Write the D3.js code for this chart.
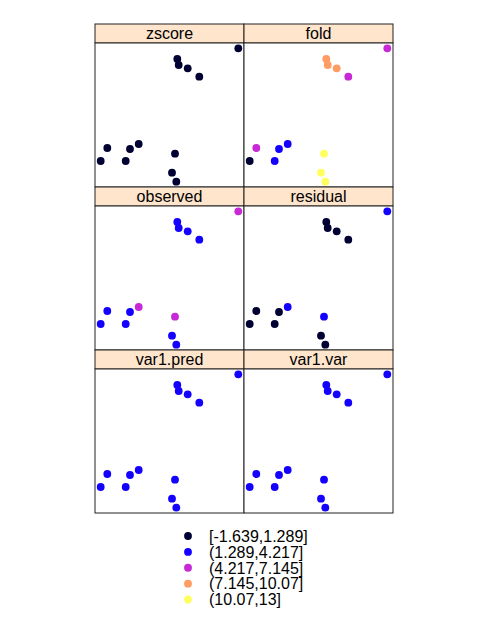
<!DOCTYPE html>
<html>
<head>
<meta charset="utf-8">
<script src="https://cdn.jsdelivr.net/npm/d3@7"></script>
<style>
  body { margin: 0; background: #fff; }
  text { font-family: "Liberation Sans", Arial, sans-serif; }
</style>
</head>
<body>
<div id="chart"></div>
<script>

// panel names, row-major like lattice draws them
var panelNames = ["zscore", "fold", "observed", "residual", "var1.pred", "var1.var"];

// class labels (shared cut intervals)
var legendLabels = ["[-1.639,1.289]", "(1.289,4.217]", "(4.217,7.145]", "(7.145,10.07]", "(10.07,13]"];

// point locations (easting / northing, arbitrary units)
var easting  = [143.3, 82.3, 83.7, 92.7, 104.3, 12.3, 35, 43.7, 5.7, 30.7, 80, 77, 81.3];
var northing = [138.7, 128, 122, 118.7, 110.3, 39, 38, 43, 26, 26, 33.3, 14.3, 5.3];

// class index of each point in each panel
var zscoreClass   = [0, 0, 0, 0, 0, 0, 0, 0, 0, 0, 0, 0, 0];
var foldClass     = [2, 3, 3, 3, 2, 2, 1, 1, 0, 1, 4, 4, 4];
var observedClass = [2, 1, 1, 1, 1, 1, 1, 2, 1, 1, 2, 1, 1];
var residualClass = [1, 0, 0, 0, 0, 0, 0, 1, 0, 0, 1, 0, 0];
var predClass     = [1, 1, 1, 1, 1, 1, 1, 1, 1, 1, 1, 1, 1];
var varClass      = [1, 1, 1, 1, 1, 1, 1, 1, 1, 1, 1, 1, 1];

var panelClasses = [zscoreClass, foldClass, observedClass, residualClass, predClass, varClass];

// bpy.colors(5)
var colorScale = d3.scaleOrdinal()
    .domain(d3.range(5))
    .range(["#000033", "#1400FF", "#C729D6", "#FF9C63", "#FFFF60"]);

var chartW = 480, chartH = 624;
var marginLeft = 95, marginTop = 24;
var panelW = 149, panelH = 144, stripH = 19;

var svg = d3.select("#chart").append("svg")
    .attr("width", chartW)
    .attr("height", chartH);

var x = d3.scaleLinear().domain([0, 149]).range([0, panelW]);
var y = d3.scaleLinear().domain([0, 144]).range([panelH, 0]);

panelNames.forEach(function(name, i) {
    var col = i % 2, row = Math.floor(i / 2);
    var g = svg.append("g")
        .attr("transform", "translate(" + (marginLeft + col * panelW) + "," + (marginTop + row * (panelH + stripH)) + ")");

    // strip
    g.append("rect")
        .attr("width", panelW)
        .attr("height", stripH)
        .attr("fill", "#FFE5CC")
        .attr("stroke", "#222")
        .attr("stroke-width", 1);

    g.append("text")
        .attr("x", panelW / 2)
        .attr("y", stripH / 2 + 5.5)
        .attr("text-anchor", "middle")
        .style("font-size", "16px")
        .style("fill", "#000")
        .text(name);

    var p = g.append("g").attr("transform", "translate(0," + stripH + ")");

    p.append("rect")
        .attr("width", panelW)
        .attr("height", panelH)
        .attr("fill", "#fff")
        .attr("stroke", "#222")
        .attr("stroke-width", 1);

    var cls = panelClasses[i];
    p.selectAll("circle")
        .data(easting)
        .enter().append("circle")
        .attr("cx", function(d) { return x(d); })
        .attr("cy", function(d, j) { return y(northing[j]); })
        .attr("r", 3.9)
        .attr("fill", function(d, j) { return colorScale(cls[j]); });
});

// legend
var legend = svg.append("g").attr("transform", "translate(188,536)");
var ly = d3.scalePoint().domain(d3.range(5)).range([0, 63.5]);

legend.selectAll("circle")
    .data(legendLabels)
    .enter().append("circle")
    .attr("cx", 0)
    .attr("cy", function(d, i) { return ly(i); })
    .attr("r", 3.9)
    .attr("fill", function(d, i) { return colorScale(i); });

legend.selectAll("text")
    .data(legendLabels)
    .enter().append("text")
    .attr("x", 21)
    .attr("y", function(d, i) { return ly(i) + 5.8; })
    .style("font-size", "16px")
    .text(function(d) { return d; });

</script>
</body>
</html>
